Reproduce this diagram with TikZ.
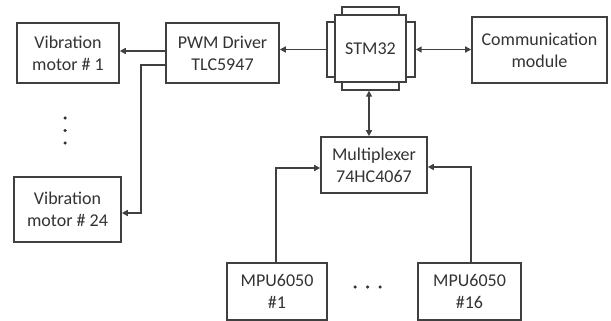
\documentclass[tikz,border=0pt]{standalone}
\usepackage{fontspec}
\setmainfont{Carlito}
\usetikzlibrary{arrows.meta}
\definecolor{ln}{HTML}{404040}
\definecolor{tx}{HTML}{333333}
\begin{document}
\begin{tikzpicture}[x=1pt,y=-1pt,
  box/.style={draw=ln,line width=1.6pt,fill=white,inner sep=0pt,align=center,text=tx,font=\fontsize{18}{22}\selectfont},
  tab/.style={draw=ln,line width=1.4pt,fill=white,inner sep=0pt},
  arr/.style={draw=ln,line width=1.6pt,-{Triangle[length=6pt,width=6pt]}},
  darr/.style={draw=ln,line width=1.6pt,{Triangle[length=6pt,width=6pt]}-{Triangle[length=6pt,width=6pt]}},
  dot/.style={fill=tx,circle,inner sep=0pt,minimum size=3.5pt}]
\useasboundingbox (0,0) rectangle (611,321);
\node[box,minimum width=102pt,minimum height=60pt] (vm1) at (68,53) {Vibration\\motor \# 1};
\node[box,minimum width=113pt,minimum height=60pt] (pwm) at (222.5,53) {PWM Driver\\TLC5947};
\node[tab,minimum width=57pt,minimum height=8pt] (stmT) at (370.5,11) {};
\node[tab,minimum width=57pt,minimum height=8pt] (stmB) at (370.5,86) {};
\node[tab,minimum width=8pt,minimum height=55pt] (stmL) at (331,49.5) {};
\node[tab,minimum width=9pt,minimum height=55pt] (stmR) at (410.5,49.5) {};
\node[box,minimum width=71pt,minimum height=67pt] (stm) at (370.5,48.5) {STM32};
\node[box,minimum width=135pt,minimum height=66pt] (comm) at (539.5,50) {Communication\\module};
\node[box,minimum width=107pt,minimum height=65pt] (vm24) at (67.5,209.5) {Vibration\\motor \# 24};
\node[box,minimum width=106pt,minimum height=56pt] (mux) at (374,165) {Multiplexer\\74HC4067};
\node[box,minimum width=100pt,minimum height=57pt] (mpu1) at (277,291.5) {MPU6050\\\#1};
\node[box,minimum width=103pt,minimum height=57pt] (mpu16) at (469.5,291.5) {MPU6050\\\#16};
\node[dot] (d1) at (65,118) {};
\node[dot] (d2) at (65,130.5) {};
\node[dot] (d3) at (65,143) {};
\node[dot] (e1) at (355,287) {};
\node[dot] (e2) at (367.5,287) {};
\node[dot] (e3) at (380,287) {};
\draw[arr] (stmL.west) -- (pwm.east |- stmL.west);
\draw[arr] ([yshift=2pt]pwm.west) -- ([yshift=2pt]vm1.east);
\draw[arr] ([yshift=-12pt]pwm.west) -- ++(-24,0) |- ([yshift=-3.5pt]vm24.east);
\draw[darr] (stmR.east) -- (comm.west |- stmR.east);
\draw[darr] ([xshift=-1.5pt]stmB.south) -- ([xshift=-1.5pt]stmB.south |- mux.north);
\draw[arr] ([xshift=-1pt]mpu1.north) |- ([yshift=-3pt]mux.west);
\draw[arr] ([xshift=1.5pt]mpu16.north) |- ([yshift=-2pt]mux.east);
\end{tikzpicture}
\end{document}
